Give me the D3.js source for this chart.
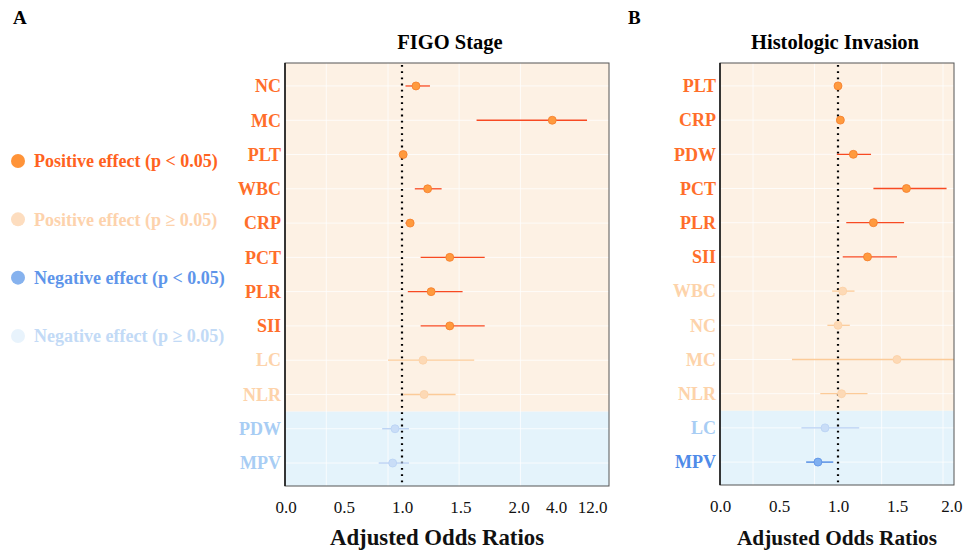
<!DOCTYPE html>
<html>
<head>
<meta charset="utf-8">
<script src="https://cdn.jsdelivr.net/npm/d3@7"></script>
<style>
  body { margin: 0; background: #fff; }
  svg text { font-family: "Liberation Serif", "DejaVu Serif", serif; }
</style>
</head>
<body>
<div id="chart"></div>
<script>
// panel A - FIGO Stage
let labelsA = ["NC", "MC", "PLT", "WBC", "CRP", "PCT", "PLR", "SII", "LC", "NLR", "PDW", "MPV"];
let estA  = [1.12, 3.8, 1.01, 1.22, 1.07, 1.41, 1.25, 1.41, 1.18, 1.19, 0.94, 0.92];
let lowA  = [1.03, 1.64, 1.00, 1.11, 1.03, 1.16, 1.05, 1.16, 0.88, 1.01, 0.83, 0.80];
let highA = [1.24, 10.9, 1.02, 1.34, 1.08, 1.71, 1.52, 1.71, 1.62, 1.46, 1.06, 1.06];
let groupA = ["ps", "ps", "ps", "ps", "ps", "ps", "ps", "ps", "pn", "pn", "nn", "nn"];
let ticksA = [0, 0.5, 1, 1.5, 2, 4, 12];
let gridA = [0.35, 0.88, 1.49, 2.1];

// panel B - Histologic Invasion
let labelsB = ["PLT", "CRP", "PDW", "PCT", "PLR", "SII", "WBC", "NC", "MC", "NLR", "LC", "MPV"];
let estB  = [1.00, 1.02, 1.13, 1.58, 1.30, 1.25, 1.04, 1.00, 1.50, 1.03, 0.89, 0.83];
let lowB  = [0.99, 1.01, 0.99, 1.30, 1.07, 1.04, 0.95, 0.91, 0.61, 0.85, 0.69, 0.73];
let highB = [1.01, 1.03, 1.28, 1.92, 1.56, 1.50, 1.14, 1.10, 2.4, 1.25, 1.18, 0.96];
let groupB = ["ps", "ps", "ps", "ps", "ps", "ps", "pn", "pn", "pn", "pn", "nn", "ns"];
let ticksB = [0, 0.5, 1, 1.5, 2];
let gridB = [0.28, 0.8, 1.37, 1.89];

let legendText = ["Positive effect (p < 0.05)", "Positive effect (p \u2265 0.05)",
                  "Negative effect (p < 0.05)", "Negative effect (p \u2265 0.05)"];
let legendGroups = ["ps", "pn", "ns", "nn"];

// colours per group
let pointFill = {ps: "#FF9A3E", pn: "#FDD9B5", ns: "#7FAFF0", nn: "#C9DDF7"};
let pointStroke = {ps: "#F57C2A", pn: "#FBD0A6", ns: "#5A90E6", nn: "#B9D2F4"};
let lineCol = {ps: "#F84A22", pn: "#FCCB98", ns: "#3F7FE0", nn: "#B7CFF3"};
let labelCol = {ps: "#FF6E2A", pn: "#FDD3AA", ns: "#4F8BE8", nn: "#A8CDF4"};
let legCircle = {ps: "#FF9338", pn: "#FDDDBF", ns: "#86B2EE", nn: "#E8F3FC"};
let legText = {ps: "#FF6220", pn: "#FDD2AC", ns: "#5E95EA", nn: "#C2DAF6"};

let W = 963, H = 554;

let svg = d3.select("#chart").append("svg")
    .attr("width", W)
    .attr("height", H);

function drawPanel(opt) {
    let x = d3.scaleLinear().domain(opt.xDomain).range(opt.xRange);
    let y = d3.scalePoint().domain(opt.labels).range([opt.top, opt.bottom]).padding(0.67);

    let rows = opt.labels.map((l, i) => ({
        label: l, est: opt.est[i], low: opt.low[i], high: opt.high[i], group: opt.group[i]
    }));

    let clipId = "clip" + opt.id;
    svg.append("clipPath").attr("id", clipId)
        .append("rect")
        .attr("x", opt.left).attr("y", opt.top)
        .attr("width", opt.right - opt.left).attr("height", opt.bottom - opt.top);

    let g = svg.append("g");

    // background: positive rows cream, negative rows light blue
    let firstNeg = rows.findIndex(d => d.group == "ns" || d.group == "nn");
    let split = (y(rows[firstNeg - 1].label) + y(rows[firstNeg].label)) / 2;
    g.append("rect")
        .attr("x", opt.left).attr("y", opt.top)
        .attr("width", opt.right - opt.left).attr("height", split - opt.top)
        .attr("fill", "#FDF1E4");
    g.append("rect")
        .attr("x", opt.left).attr("y", split)
        .attr("width", opt.right - opt.left).attr("height", opt.bottom - split)
        .attr("fill", "#E4F3FB");

    // grid
    g.selectAll(".vg").data(opt.grid).enter().append("line")
        .attr("x1", d => x(d)).attr("x2", d => x(d))
        .attr("y1", opt.top).attr("y2", opt.bottom)
        .attr("stroke", "#ffffff").attr("stroke-width", 1).attr("opacity", 0.8);
    g.selectAll(".hg").data(rows).enter().append("line")
        .attr("x1", opt.left).attr("x2", opt.right)
        .attr("y1", d => y(d.label)).attr("y2", d => y(d.label))
        .attr("stroke", "#ffffff").attr("stroke-width", 1).attr("opacity", 0.8);

    // reference line at OR = 1
    g.append("line")
        .attr("x1", x(1)).attr("x2", x(1))
        .attr("y1", opt.top + 2).attr("y2", opt.bottom)
        .attr("stroke", "#000").attr("stroke-width", 2.2)
        .attr("stroke-dasharray", "1.8,4.4");

    let marks = g.append("g").attr("clip-path", "url(#" + clipId + ")");

    marks.selectAll(".ci").data(rows).enter().append("line")
        .attr("x1", d => x(d.low)).attr("x2", d => x(d.high))
        .attr("y1", d => y(d.label)).attr("y2", d => y(d.label))
        .attr("stroke", d => lineCol[d.group]).attr("stroke-width", 1.3);

    marks.selectAll(".pt").data(rows).enter().append("circle")
        .attr("cx", d => x(d.est)).attr("cy", d => y(d.label))
        .attr("r", 4)
        .attr("fill", d => pointFill[d.group])
        .attr("stroke", d => pointStroke[d.group]).attr("stroke-width", 0.8);

    // border
    g.append("rect")
        .attr("x", opt.left).attr("y", opt.top)
        .attr("width", opt.right - opt.left).attr("height", opt.bottom - opt.top)
        .attr("fill", "none").attr("stroke", "#555").attr("stroke-width", 1);
    g.append("line")
        .attr("x1", opt.left).attr("x2", opt.left)
        .attr("y1", opt.top).attr("y2", opt.bottom)
        .attr("stroke", "#111").attr("stroke-width", 1.5);

    // y labels
    g.selectAll(".yl").data(rows).enter().append("text")
        .attr("x", opt.left - 4).attr("y", d => y(d.label))
        .attr("dy", "0.35em")
        .attr("text-anchor", "end")
        .attr("font-size", 18).attr("font-weight", "bold")
        .attr("fill", d => labelCol[d.group])
        .text(d => d.label);

    // x axis
    let axis = g.append("g")
        .attr("transform", "translate(0," + (opt.bottom + 12) + ")")
        .call(d3.axisBottom(x).tickValues(opt.ticks).tickFormat(d3.format(".1f")).tickSize(0));
    axis.select(".domain").remove();
    axis.selectAll("text")
        .attr("font-family", "Liberation Serif, serif")
        .attr("font-size", 17).attr("fill", "#111");
    // keep the last tick label inside the page
    axis.selectAll(".tick text").filter(d => x(d) + 14 > W)
        .attr("text-anchor", "end").attr("x", d => W - 1 - x(d));

    // title and axis title
    let cx = (opt.left + opt.right) / 2;
    g.append("text").attr("x", cx + opt.titleShift).attr("y", 49)
        .attr("text-anchor", "middle").attr("font-size", 20.5).attr("font-weight", "bold")
        .attr("fill", "#000").text(opt.title);
    g.append("text").attr("x", cx + opt.axisTitleShift).attr("y", 545)
        .attr("text-anchor", "middle").attr("font-size", opt.axisTitleSize).attr("font-weight", "bold")
        .attr("fill", "#111").text("Adjusted Odds Ratios");

    g.append("text").attr("x", opt.tagX).attr("y", 24)
        .attr("font-size", 19).attr("font-weight", "bold")
        .attr("fill", "#000").text(opt.tag);
}

drawPanel({
    id: "A", tag: "A", tagX: 13, title: "FIGO Stage",
    labels: labelsA, est: estA, low: lowA, high: highA, group: groupA,
    ticks: ticksA, grid: gridA,
    xDomain: [0, 2, 4, 12], xRange: [285.5, 518.5, 556, 592],
    left: 285, right: 609, top: 63, bottom: 486,
    titleShift: 3, axisTitleShift: -10, axisTitleSize: 22.8
});

drawPanel({
    id: "B", tag: "B", tagX: 628, title: "Histologic Invasion",
    labels: labelsB, est: estB, low: lowB, high: highB, group: groupB,
    ticks: ticksB, grid: gridB,
    xDomain: [0, 2], xRange: [720, 956],
    left: 720, right: 954, top: 63, bottom: 485,
    titleShift: -2, axisTitleShift: 0, axisTitleSize: 21.3
});

// legend
let leg = svg.append("g");
let ly = d3.scalePoint().domain(legendGroups).range([161, 336]);
leg.selectAll("circle").data(legendGroups).enter().append("circle")
    .attr("cx", 18).attr("cy", d => ly(d)).attr("r", 7)
    .attr("fill", d => legCircle[d]);
leg.selectAll("text").data(legendGroups).enter().append("text")
    .attr("x", 34).attr("y", d => ly(d)).attr("dy", "0.35em")
    .attr("font-size", 18).attr("font-weight", "bold")
    .attr("fill", d => legText[d])
    .text((d, i) => legendText[i]);
</script>
</body>
</html>
